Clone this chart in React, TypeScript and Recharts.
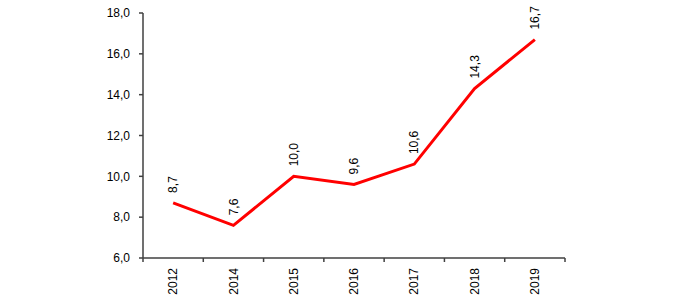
import { LineChart, Line, XAxis, YAxis } from 'recharts'

const years = ['2012', '2014', '2015', '2016', '2017', '2018', '2019']
const values = [8.7, 7.6, 10.0, 9.6, 10.6, 14.3, 16.7]
const yTicks = [6, 8, 10, 12, 14, 16, 18]

const data = years.map((year, i) => ({ year, value: values[i] }))

const W = 700
const H = 300
const M = { top: 13, right: 135, bottom: 0, left: 103 }
const Y_W = 40
const X_H = 42
const plotW = W - M.left - M.right - Y_W
const step = plotW / years.length
const axisColor = '#404040'
const font = '"Liberation Sans", Arial, sans-serif'

const fmt = (v: number) => v.toFixed(1).replace('.', ',')

function YearTick(props: any) {
  const { x, y, payload, index } = props
  return <g>
    {index === 0 && <line x1={x - step / 2} x2={x - step / 2} y1={y} y2={y + 4} stroke={axisColor} strokeWidth={1.5} />}
    <line x1={x + step / 2} x2={x + step / 2} y1={y} y2={y + 4} stroke={axisColor} strokeWidth={1.5} />
    <text x={x} y={y + 10} dy="0.35em" transform={`rotate(-90, ${x}, ${y + 10})`} textAnchor="end"
      fontSize={12} fontFamily={font} fill="#000">{payload.value}</text>
  </g>
}

function ValueLabel(props: any) {
  const { x, y, value } = props
  const ly = y - 10
  return <text x={x} y={ly} dy="0.35em" transform={`rotate(-90, ${x}, ${ly})`} textAnchor="start"
    fontSize={12} fontFamily={font} fill="#000">{fmt(value)}</text>
}

export default function App() {
  return <div style={{ position: 'absolute', left: 0, top: 0, width: W, height: H, background: '#fff' }}>
    <LineChart width={W} height={H} data={data} margin={M}>
      <XAxis dataKey="year" scale="band" height={X_H} stroke={axisColor} strokeWidth={1.5}
        tickLine={false} tickSize={0} tickMargin={0} interval={0} tick={<YearTick />} />
      <YAxis domain={[6, 18]} ticks={yTicks} width={Y_W} stroke={axisColor} strokeWidth={1.5}
        tickSize={4} tickMargin={9} tickFormatter={fmt} interval={0}
        tick={{ fill: '#000', fontSize: 12, fontFamily: font }} />
      <Line dataKey="value" stroke="#ff0000" strokeWidth={3} dot={false} isAnimationActive={false}
        label={<ValueLabel />} />
    </LineChart>
  </div>
}
